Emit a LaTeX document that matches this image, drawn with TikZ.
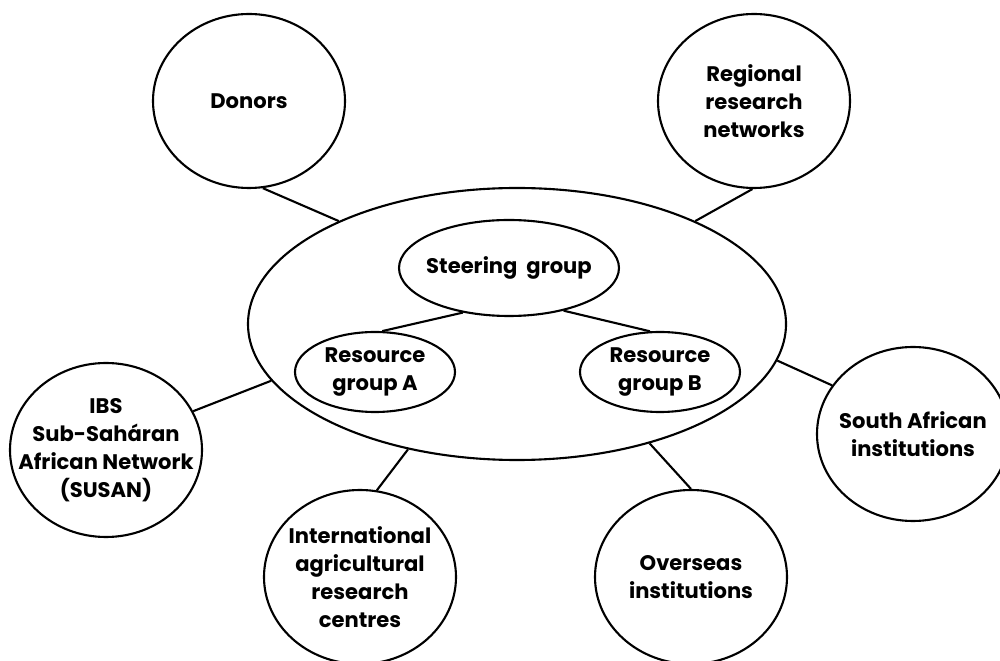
\documentclass[tikz,border=0pt]{standalone}
\usepackage{fontspec}
\setmainfont{Poppins}
\usetikzlibrary{shapes.geometric}
\tikzset{
    party/.style={ellipse, draw, line width=1.2pt, minimum width=38.4mm, minimum height=34.8mm, inner sep=-4mm, align=center},
    grp/.style={ellipse, draw, line width=1.2pt, inner sep=-1mm, align=center},
    hub/.style={ellipse, draw, line width=1.2pt, minimum width=107.6mm, minimum height=54.4mm},
    link/.style={line width=1.2pt},
    every node/.append style={font=\bfseries\fontsize{12}{15.9}\selectfont},
}

\begin{document}
\begin{tikzpicture}[x=0.2mm, y=-0.2mm]
    \useasboundingbox (0,0) rectangle (1000,661);

    % centre
    \node[hub] (core) at (517,324) {};
    \node[grp, minimum width=40.8mm, minimum height=19.2mm] (steer) at (509,268) {Steering\ \ group};
    \node[grp, minimum width=32mm, minimum height=16mm] (resA) at (375,372) {Resource\\group A};
    \node[grp, minimum width=32mm, minimum height=16mm] (resB) at (660,372) {Resource\\group B};

    % partners
    \node[party] (donors) at (249,101) {Donors};
    \node[party] (regional) at (754,101) {Regional\\research\\networks};
    \node[party] (susan) at (106,450) {IBS\\Sub-Saháran\\African Network\\(SUSAN)};
    \node[party] (iarc) at (360,577) {International\\agricultural\\research\\centres};
    \node[party] (overseas) at (691,577) {Overseas\\institutions};
    \node[party] (southafr) at (913,434) {South African\\institutions};

    \draw[link] (steer.-136) -- (resA.80);
    \draw[link] (steer.-38) -- (resB.104);

    \draw[link] (donors.-81) -- (core.150.5);
    \draw[link] (regional.-91) -- (core.30.2);
    \draw[link] (susan.24.7) -- (core.193.7);
    \draw[link] (iarc.79.6) -- (core.-131.3);
    \draw[link] (overseas.90.7) -- (core.-42.3);
    \draw[link] (southafr.149.6) -- (core.-8.3);
\end{tikzpicture}
\end{document}
